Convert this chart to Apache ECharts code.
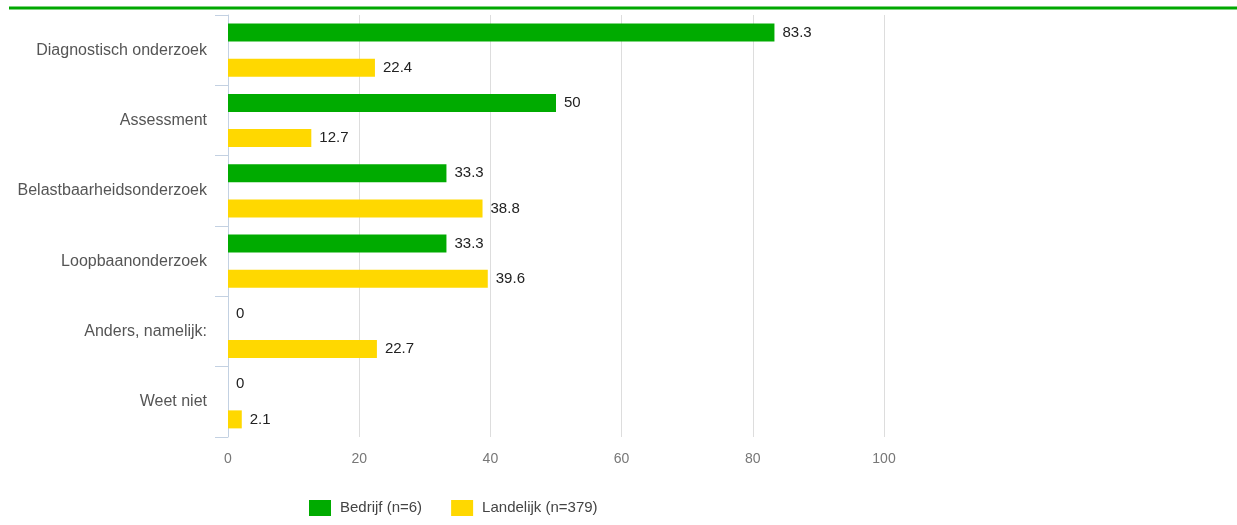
<!DOCTYPE html>
<html>
<head>
<meta charset="utf-8">
<script src="https://cdn.jsdelivr.net/npm/echarts@6/dist/echarts.min.js"></script>
<style>
  html, body { margin: 0; padding: 0; background: #fff; }
  #chart { width: 1237px; height: 525px; }
</style>
</head>
<body>
<div id="chart"></div>
<script>
// categories, top to bottom
const categories = [
  'Diagnostisch onderzoek',
  'Assessment',
  'Belastbaarheidsonderzoek',
  'Loopbaanonderzoek',
  'Anders, namelijk:',
  'Weet niet'
];
const bedrijf = [83.3, 50, 33.3, 33.3, 0, 0];
const landelijk = [22.4, 12.7, 38.8, 39.6, 22.7, 2.1];
const seriesNames = ['Bedrijf (n=6)', 'Landelijk (n=379)'];

const FONT = "'Liberation Sans', Arial, sans-serif";

const chart = echarts.init(document.getElementById('chart'));

const valueLabel = {
  show: true,
  position: 'right',
  distance: 8,
  color: '#222',
  fontSize: 15,
  fontFamily: FONT
};

const option = {
  animation: false,
  textStyle: { fontFamily: FONT },
  graphic: [{
    type: 'line',
    shape: { x1: 9, y1: 8, x2: 1237, y2: 8 },
    style: { stroke: '#00a800', lineWidth: 3 }
  }],
  grid: { left: 228, right: 353, top: 15, bottom: 88 },
  legend: {
    data: seriesNames,
    left: 304,
    top: 495,
    itemWidth: 22,
    itemHeight: 16,
    itemGap: 29,
    icon: 'rect',
    textStyle: { color: '#444', fontSize: 15, fontFamily: FONT, padding: [0, 0, 0, 4] }
  },
  xAxis: {
    type: 'value',
    min: 0,
    max: 100,
    interval: 20,
    axisLine: { show: false },
    axisTick: { show: false },
    axisLabel: { color: '#777', fontSize: 14, fontFamily: FONT, margin: 15 },
    splitLine: { lineStyle: { color: '#ddd', width: 1 } }
  },
  yAxis: {
    type: 'category',
    data: categories,
    inverse: true,
    axisLine: { show: true, lineStyle: { color: '#c3d1e2', width: 1 } },
    axisTick: { show: true, length: 13, lineStyle: { color: '#c3d1e2' } },
    axisLabel: { color: '#555', fontSize: 16, fontFamily: FONT, margin: 21 }
  },
  series: [
    {
      name: seriesNames[0],
      type: 'bar',
      data: bedrijf,
      barWidth: 18,
      barGap: '95%',
      itemStyle: { color: '#00ab00' },
      label: valueLabel
    },
    {
      name: seriesNames[1],
      type: 'bar',
      data: landelijk,
      barWidth: 18,
      itemStyle: { color: '#ffd800' },
      label: valueLabel
    }
  ]
};

chart.setOption(option);
</script>
</body>
</html>
